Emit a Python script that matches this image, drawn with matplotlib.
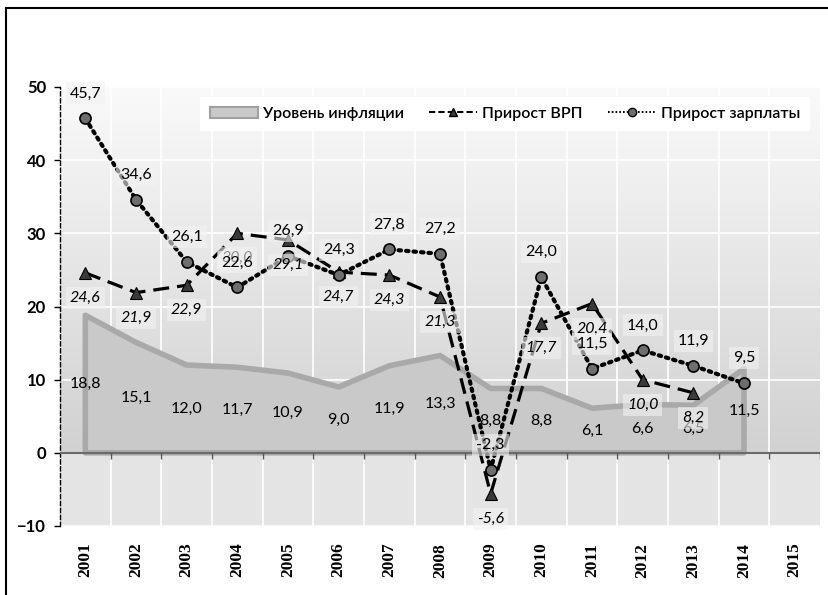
import numpy as np
import matplotlib
matplotlib.use("Agg")
import matplotlib.pyplot as plt
import matplotlib.patches as mpatches
from matplotlib.lines import Line2D

# data
years = ['2001', '2002', '2003', '2004', '2005', '2006', '2007', '2008',
         '2009', '2010', '2011', '2012', '2013', '2014', '2015']
inflation = [18.8, 15.1, 12.0, 11.7, 10.9, 9.0, 11.9, 13.3, 8.8, 8.8, 6.1, 6.6, 6.5, 11.5]
grp = [24.6, 21.9, 22.9, 30.0, 29.1, 24.7, 24.3, 21.3, -5.6, 17.7, 20.4, 10.0, 8.2]
wages = [45.7, 34.6, 26.1, 22.6, 26.9, 24.3, 27.8, 27.2, -2.3, 24.0, 11.5, 14.0, 11.9, 9.5]

labels = ['Уровень инфляции', 'Прирост ВРП', 'Прирост зарплаты']

plt.rcParams['font.family'] = ['Lato', 'DejaVu Sans']

fig = plt.figure(figsize=(8.29, 5.95), dpi=100)
ax = fig.add_axes([60 / 829, 1 - 526 / 595, 760 / 829, (526 - 87) / 595])

x = np.arange(len(years))
ax.set_xlim(-0.5, len(years) - 0.5)
ax.set_ylim(-10, 50)

# background gradient (light top -> grey at zero, flat grey below zero)
vals = np.linspace(50, -10, 300)
shade = np.where(vals >= 0, 0.82 + 0.16 * (vals / 50), 0.895)
img = np.dstack([shade, shade, shade])[0][:, None, :]
ax.imshow(img, extent=(-0.5, len(years) - 0.5, -10, 50), aspect='auto', zorder=0)

# grid
ax.set_xticks(x)
ax.set_xticks(x[:-1] + 0.5, minor=True)
ax.set_yticks(range(-10, 51, 10))
ax.grid(True, which='minor', axis='x', color='white', lw=1.2, zorder=1)
ax.grid(True, which='major', axis='y', color='white', lw=1.2, zorder=1)

# inflation area
xi = x[:len(inflation)]
poly_x = np.concatenate([[xi[0]], xi, [xi[-1]]])
poly_y = np.concatenate([[0], inflation, [0]])
ax.fill(poly_x, poly_y, facecolor='#c9c9c9', edgecolor='#a9a9a9', lw=4,
        joinstyle='round', zorder=2)

# zero axis line with category ticks
ax.axhline(0, color='#6a6a6a', lw=1.5, zorder=3)
ax.vlines(np.append(x[:-1] + 0.5, x[-1] + 0.5), -0.8, 0, color='#555555', lw=1, zorder=3)

# lines
ax.plot(x[:len(grp)], grp, color='black', lw=2.3, dashes=(5, 2.5),
        marker='^', ms=8, mfc='#3a3a3a', mec='black', mew=0.8, zorder=5)
ax.plot(x[:len(wages)], wages, color='black', lw=3, linestyle=(0, (0.6, 1.2)),
        dash_capstyle='round',
        marker='o', ms=8, mfc='#6e6e6e', mec='black', mew=1.2, zorder=6)

box = dict(boxstyle='square,pad=0.25', fc='#f2f2f2', ec='none', alpha=0.6)


def fmt(v):
    return f'{v:.1f}'.replace('.', ',')


for xx, v in zip(xi, inflation):
    ax.text(xx, v / 2, fmt(v), ha='center', va='center', fontsize=11.5, zorder=7)
for xx, v in zip(x, grp):
    ax.annotate(fmt(v), (xx, v), xytext=(0, -18), textcoords='offset points',
                ha='center', va='center', fontsize=11.5, style='italic',
                bbox=box, zorder=7, annotation_clip=False)
for xx, v in zip(x, wages):
    ax.annotate(fmt(v), (xx, v), xytext=(0, 18), textcoords='offset points',
                ha='center', va='center', fontsize=11.5,
                bbox=box, zorder=8, annotation_clip=False)

# axes styling
for s in ['top', 'right', 'bottom']:
    ax.spines[s].set_visible(False)
ax.spines['left'].set_linestyle((0, (3, 2)))
ax.spines['left'].set_linewidth(1)
ax.tick_params(axis='y', length=4, width=1, pad=6, labelsize=12)
ax.tick_params(axis='x', which='both', length=0, pad=12)
ax.set_xticklabels(years, rotation=90, fontsize=12.5, fontweight='bold',
                   family='Liberation Serif')
for t in ax.get_yticklabels():
    t.set_fontweight('bold')

# legend
handles = [mpatches.Patch(facecolor='#c9c9c9', edgecolor='#a0a0a0', lw=1.5),
           Line2D([], [], color='black', lw=1.5, dashes=(3, 1.5), marker='^',
                  ms=6, mfc='#3a3a3a', mec='black'),
           Line2D([], [], color='black', lw=1.5, linestyle=(0, (0.8, 1)), marker='o',
                  ms=6, mfc='#6e6e6e', mec='black')]
leg = ax.legend(handles, labels, ncol=3, loc='upper right',
                bbox_to_anchor=(0.997, 0.995), frameon=True, fancybox=False,
                facecolor='white', edgecolor='none', framealpha=1,
                fontsize=11.5, handlelength=3.0, columnspacing=1.6,
                handletextpad=0.3, borderpad=0.6)
for t in leg.get_texts():
    t.set_fontweight('semibold')
leg.set_zorder(9)

# outer frame
fig.add_artist(Line2D([6 / 829, 6 / 829], [0, 1 - 8 / 595], color='black', lw=1.5))
fig.add_artist(Line2D([6 / 829, 1], [1 - 8 / 595, 1 - 8 / 595], color='black', lw=1.5))

fig.savefig('out.png', dpi=100)
